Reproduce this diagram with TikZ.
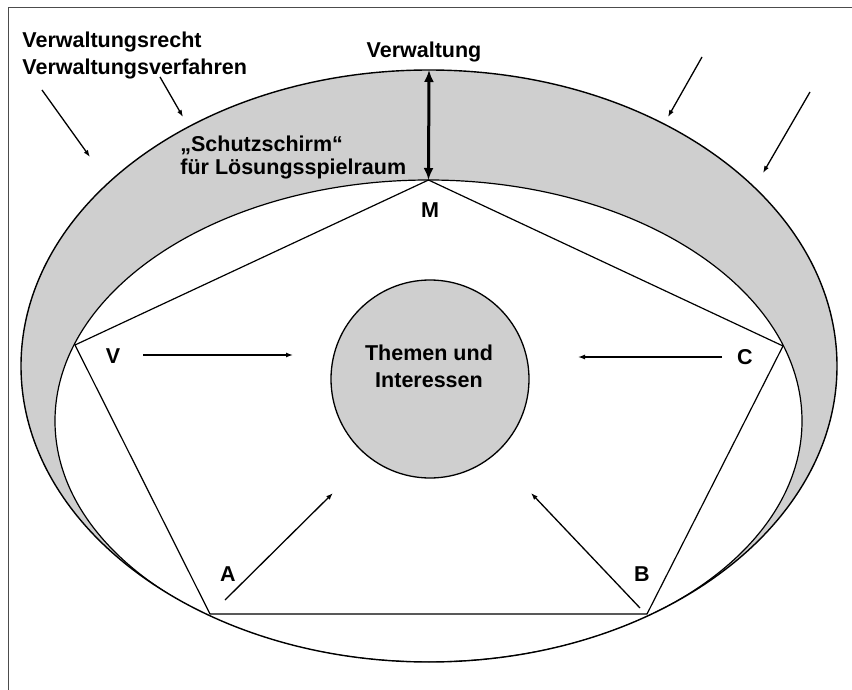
\documentclass[tikz,border=0pt]{standalone}
\usepackage{fontspec}
\setmainfont{Liberation Sans}
\usetikzlibrary{arrows.meta}

\definecolor{shieldgray}{gray}{0.81}

\begin{document}
\begin{tikzpicture}[x=1pt, y=-1pt, thick, >={Latex[length=7pt,width=5pt]},
  lbl/.style={font=\fontsize{21.5}{27}\selectfont\bfseries, inner sep=0pt},
  push/.style={->, line width=1.3pt},
  side/.style={line width=1.2pt}]
  \useasboundingbox (0,0) rectangle (852,690);

  % --- Frame ---
  \draw[line width=1pt, black!70] (8,690) -- (8,8) -- (852,8);

  % --- Protective shield (outer ellipse minus inner ellipse) ---
  \fill[shieldgray] (429,366) ellipse [x radius=408, y radius=296];
  \begin{scope}
    \clip (429,366) ellipse [x radius=408, y radius=296];
    \filldraw[fill=white, line width=1.2pt] (428.5,421) ellipse [x radius=373.5, y radius=241];
  \end{scope}
  \draw[line width=1.4pt] (429,366) ellipse [x radius=408, y radius=296];

  % --- Pentagon corners (on the inner ellipse) ---
  \coordinate (M) at (428.5,180);
  \coordinate (V) at (75,345);
  \coordinate (C) at (783,346);
  \coordinate (A) at (210,614);
  \coordinate (B) at (647,614);
  \draw[side] (M) -- (C) -- (B) -- (A) -- (V) -- cycle;

  \node[lbl, anchor=base] (Mlabel) at (430,218) {M};
  \node[lbl, anchor=base] (Vlabel) at (113,363) {V};
  \node[lbl, anchor=base] (Clabel) at (745,364) {C};
  \node[lbl, anchor=base] (Alabel) at (228,581) {A};
  \node[lbl, anchor=base] (Blabel) at (642,581) {B};

  % --- Centre: topics and interests ---
  \node[circle, draw, line width=1.3pt, fill=shieldgray, minimum size=198pt] (topics) at (430,379) {};
  \node[lbl, align=center] (topicstext) at (429,366) {Themen und\\Interessen};

  % --- Arrows from the parties towards the centre ---
  \coordinate (Vtail) at (143,355);  \coordinate (Vhead) at (293,355);
  \coordinate (Ctail) at (722,357);  \coordinate (Chead) at (578,357);
  \coordinate (Atail) at (225,600);  \coordinate (Ahead) at (333,493);
  \coordinate (Btail) at (640,608);  \coordinate (Bhead) at (531,493);
  \draw[push] (Vtail) -- (Vhead);
  \draw[push] (Ctail) -- (Chead);
  \draw[push] (Atail) -- (Ahead);
  \draw[push] (Btail) -- (Bhead);

  % --- Labels at the top ---
  \node[lbl, anchor=base west] (law) at (22,48) {Verwaltungsrecht};
  \node[lbl, anchor=base west] (procedure) at (22,75) {Verwaltungsverfahren};
  \node[lbl, anchor=base] (admin) at (424,58) {Verwaltung};
  \node[lbl, anchor=base west] (shield) at (180,152) {„Schutzschirm“};
  \node[lbl, anchor=base west] (room) at (180,175) {für Lösungsspielraum};

  % --- Pressure from outside onto the shield ---
  \coordinate (p1tail) at (42,90);   \coordinate (p1head) at (90,157);
  \coordinate (p2tail) at (160,77);  \coordinate (p2head) at (183,117);
  \coordinate (p3tail) at (702,57);  \coordinate (p3head) at (668,117);
  \coordinate (p4tail) at (810,92);  \coordinate (p4head) at (763,173);
  \foreach \p in {p1,p2,p3,p4} {
    \draw[push] (\p tail) -- (\p head);
  }

  % --- Width of the shield ---
  \coordinate (shieldtop) at (429,70);
  \draw[line width=3pt, {Latex[length=12pt,width=10pt]}-{Latex[length=12pt,width=10pt]}] (shieldtop) -- (M);

\end{tikzpicture}
\end{document}
